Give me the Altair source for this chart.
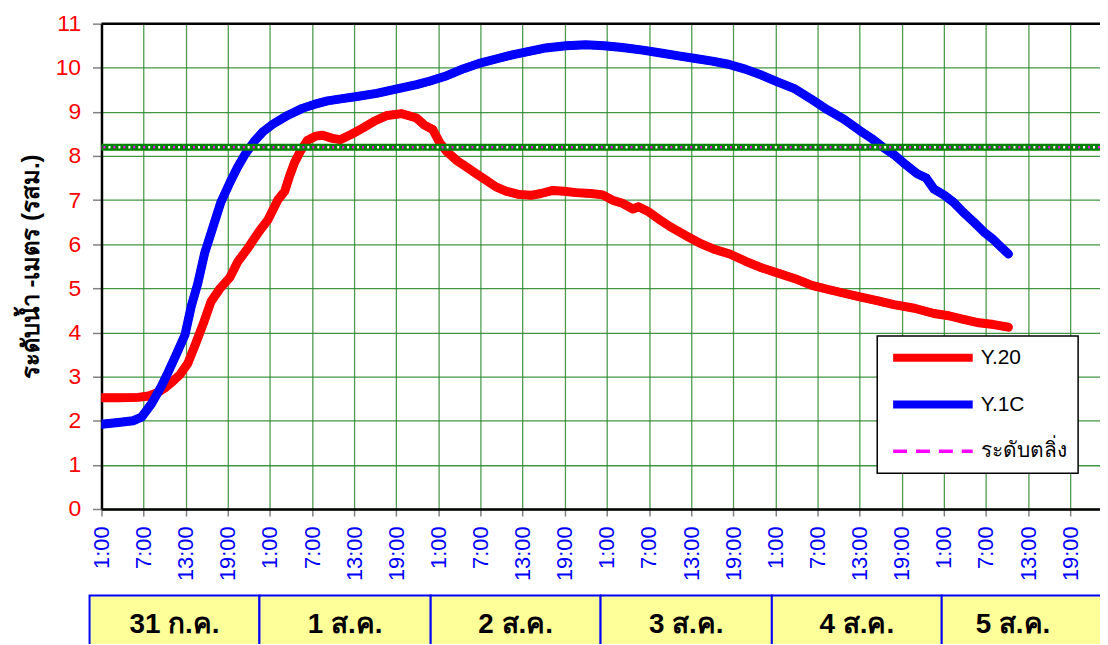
import altair as alt
import pandas as pd

# Hours counted from 01:00 on 31 Jul
y20_hours = [0, 2.4, 5.2, 6.7, 8.1, 9.1, 10.2, 11.2, 12.3, 13.3, 14.5, 15.6, 16.9, 18.3, 19.4, 20.8,
             22.5, 23.7, 25.1, 26.1, 26.8, 27.5, 28.3, 29.3, 30.5, 31.5, 32.9, 34.0, 35.7, 37.4, 39.0,
             40.7, 42.8, 44.9, 46.0, 47.2, 48.2, 49.2, 50.6, 52.0, 53.4, 54.8, 56.2, 57.7, 59.4, 61.2,
             62.6, 64.3, 65.9, 67.6, 69.7, 71.4, 72.8, 74.2, 75.7, 76.5, 77.8, 79.3, 81.0, 83.2, 85.3,
             87.4, 89.5, 91.7, 93.8, 96.3, 98.8, 101.2, 103.4, 105.8, 108.2, 110.5, 112.9, 115.8,
             118.6, 120.7, 122.8, 125.0, 127.1, 129.2]
y20_level = [2.52, 2.52, 2.53, 2.56, 2.65, 2.75, 2.9, 3.05, 3.3, 3.7, 4.2, 4.7, 5.0, 5.25, 5.6, 5.9,
             6.3, 6.55, 7.0, 7.2, 7.55, 7.85, 8.1, 8.35, 8.45, 8.47, 8.4, 8.37, 8.5, 8.65, 8.8,
             8.92, 8.96, 8.86, 8.7, 8.6, 8.3, 8.1, 7.9, 7.75, 7.6, 7.45, 7.3, 7.2, 7.13, 7.11,
             7.15, 7.22, 7.2, 7.17, 7.15, 7.12, 7.0, 6.93, 6.8, 6.85, 6.75, 6.58, 6.4, 6.2, 6.02,
             5.88, 5.78, 5.62, 5.48, 5.35, 5.22, 5.07, 4.98, 4.89, 4.8, 4.72, 4.63, 4.55,
             4.43, 4.38, 4.3, 4.22, 4.18, 4.12]

y1c_hours = [0, 2.4, 4.5, 5.7, 7.1, 8.5, 9.5, 10.5, 11.9, 12.8, 13.7, 14.7, 15.9, 17.0, 18.3, 19.4,
             20.5, 21.8, 23.0, 24.4, 26.5, 28.6, 30.3, 32.2, 34.3, 36.4, 39.2, 42.1, 44.9, 46.8,
             49.2, 51.6, 53.8, 56.2, 58.7, 60.9, 63.3, 66.2, 69.0, 71.6, 74.2, 77.1, 79.9, 82.2,
             84.6, 87.0, 89.3, 91.7, 94.1, 96.3, 98.8, 101.2, 103.4, 105.8, 108.0, 109.7, 111.5,
             112.9, 114.6, 116.2, 117.5, 118.6, 120.0, 121.4, 122.8, 124.3, 125.7, 127.1, 128.2, 129.2]
y1c_level = [1.92, 1.96, 2.0, 2.08, 2.38, 2.77, 3.1, 3.45, 3.95, 4.6, 5.1, 5.8, 6.4, 6.95, 7.4, 7.75,
             8.05, 8.34, 8.55, 8.72, 8.92, 9.08, 9.17, 9.25, 9.3, 9.35, 9.42, 9.52, 9.62, 9.7,
             9.82, 9.98, 10.1, 10.2, 10.3, 10.37, 10.45, 10.5, 10.52, 10.5, 10.46, 10.4, 10.33, 10.27,
             10.21, 10.15, 10.08, 9.97, 9.83, 9.68, 9.52, 9.28, 9.05, 8.83, 8.58, 8.4, 8.18,
             8.03, 7.8, 7.6, 7.5, 7.25, 7.12, 6.95, 6.72, 6.5, 6.28, 6.1, 5.93, 5.78]

bank_level = 8.2
x_max_hours = 142.25

series_names = ["Y.20", "Y.1C", "ระดับตลิ่ง"]
series_colors = ["#FF0000", "#0000FF", "#FF00FF"]
series_dash = [[1, 0], [1, 0], [14, 9]]
series_width = [8, 8, 3.5]

day_labels = ["31 ก.ค.", "1 ส.ค.", "2 ส.ค.", "3 ส.ค.", "4 ส.ค.", "5 ส.ค."]
day_start = [-1.7, 22.5, 46.9, 71.1, 95.5, 119.7]
day_end = [22.5, 46.9, 71.1, 95.5, 119.7, 146.0]

tick_hours = list(range(0, 142, 3))
y_ticks = list(range(0, 12))

W, H = 1004, 488

levels_df = pd.concat([
    pd.DataFrame({"t": y20_hours, "v": y20_level, "s": series_names[0], "o": 0}),
    pd.DataFrame({"t": y1c_hours, "v": y1c_level, "s": series_names[1], "o": 1}),
], ignore_index=True)
lines_df = pd.concat([
    levels_df,
    pd.DataFrame({"t": [0, x_max_hours], "v": [bank_level, bank_level], "s": series_names[2], "o": 2}),
], ignore_index=True)

days_df = pd.DataFrame({"label": day_labels, "start": day_start, "end": day_end})
days_df["mid"] = (days_df["start"] + days_df["end"]) / 2
days_df.loc[days_df.index[-1], "mid"] = (day_start[-1] + 140) / 2

x_scale = alt.Scale(domain=[0, x_max_hours], nice=False, zero=False)
y_scale = alt.Scale(domain=[0, 11], nice=False)
color_scale = alt.Scale(domain=series_names, range=series_colors)

x_axis = alt.Axis(
    values=tick_hours,
    labelExpr="datum.value % 6 == 0 ? ((datum.value + 1) % 24) + ':00' : ''",
    labelAngle=270, labelAlign="right", labelBaseline="middle",
    labelColor="#0000FF", labelFontSize=22, labelFont="Arial", labelPadding=10,
    labelOverlap=False, labelFlush=False,
    tickColor="#808080", tickSize=7, tickWidth=1.5,
    domainColor="black", domainWidth=2.5,
    grid=True, gridColor="#2E8B2E", gridWidth=1.3, gridOpacity=0.85,
    title=None,
)
y_axis = alt.Axis(
    values=y_ticks,
    labelColor="#FF0000", labelFontSize=23, labelFont="Arial", labelPadding=12,
    tickColor="#808080", tickSize=9, tickWidth=1.5,
    domainColor="black", domainWidth=2.5,
    grid=True, gridColor="#2E8B2E", gridWidth=1.3, gridOpacity=0.9,
    title="ระดับน้ำ -เมตร (รสม.)", titleFontSize=24, titleFont="Arial",
    titleFontWeight="bold", titleColor="black", titlePadding=12,
)

# legend-bearing layer (all three series)
lines = alt.Chart(lines_df).mark_line(strokeCap="round", strokeJoin="round", clip=True).encode(
    x=alt.X("t:Q", scale=x_scale, axis=x_axis),
    y=alt.Y("v:Q", scale=y_scale, axis=y_axis),
    color=alt.Color("s:N", scale=color_scale, title=None),
    strokeDash=alt.StrokeDash("s:N", scale=alt.Scale(domain=series_names, range=series_dash), title=None),
    strokeWidth=alt.StrokeWidth("s:N", scale=alt.Scale(type="ordinal", domain=series_names, range=series_width),
                                title=None),
    order="o:Q",
)

# thick water-level lines drawn on top
thick = alt.Chart(levels_df).mark_line(strokeCap="round", strokeJoin="round", strokeWidth=9, clip=True).encode(
    x=alt.X("t:Q", scale=x_scale),
    y=alt.Y("v:Q", scale=y_scale),
    color=alt.Color("s:N", scale=color_scale, title=None),
    detail="s:N",
    order="o:Q",
)

bank_df = pd.DataFrame({"v": [bank_level]})
bank_band = alt.Chart(bank_df).mark_rule(color="#008000", strokeWidth=7).encode(y="v:Q")
bank_dots = alt.Chart(bank_df).mark_rule(color="#FF00FF", strokeWidth=2.5, strokeDash=[2, 8]).encode(y="v:Q")
bank_white = alt.Chart(bank_df).mark_rule(color="#FFFFFF", strokeWidth=2.5, strokeDash=[2, 8],
                                           strokeDashOffset=5).encode(y="v:Q")

top_df = pd.DataFrame({"v": [11]})
top_line = alt.Chart(top_df).mark_rule(color="black", strokeWidth=2.5).encode(y="v:Q")

boxes = alt.Chart(days_df).mark_rect(fill="#FFFF99", stroke="#0000FF", strokeWidth=2).encode(
    x="start:Q", x2="end:Q", y=alt.value(H + 87), y2=alt.value(H + 160),
)
box_text = alt.Chart(days_df).mark_text(fontSize=28, fontWeight="bold", font="Arial", color="black",
                                        baseline="middle").encode(
    x="mid:Q", y=alt.value(H + 117), text="label:N",
)

chart = alt.layer(lines, thick, bank_band, bank_dots, bank_white, top_line, boxes, box_text).properties(
    width=W, height=H,
    autosize=alt.AutoSizeParams(type="none"),
    padding={"left": 94, "top": 14, "right": 0, "bottom": 134},
    background="white",
).configure_view(stroke=None).configure_legend(
    orient="none", legendX=780, legendY=314,
    fillColor="white", strokeColor="black", strokeWidth=1.5, padding=12,
    symbolType="stroke", symbolSize=6400, clipHeight=20, rowPadding=26,
    labelFontSize=21, labelFont="Arial", labelColor="black", labelOffset=4,
    titlePadding=0,
)

chart.save("out.html", embed_options={"renderer": "svg", "actions": False})
